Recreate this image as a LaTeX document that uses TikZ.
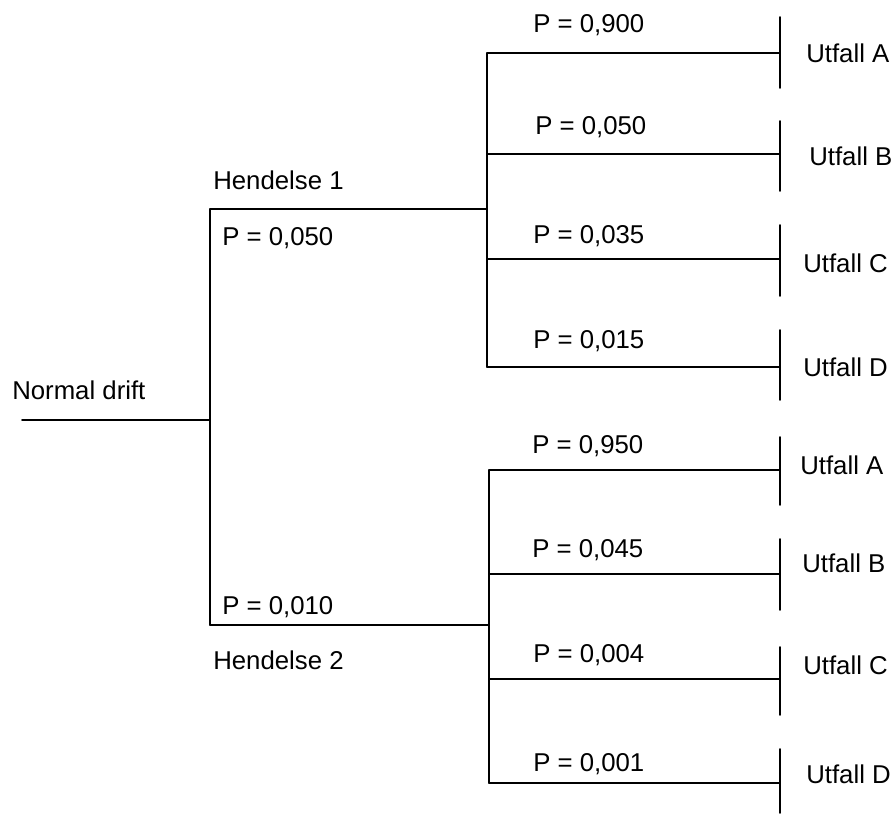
\documentclass[tikz,border=0pt]{standalone}
\usepackage{fontspec}
\setmainfont{Liberation Sans}

\begin{document}
\begin{tikzpicture}[line cap=round,line join=round,x=0.02646cm,y=-0.02646cm,
  lbl/.style={anchor=west,inner sep=0pt,text depth=0pt,font=\fontsize{19.4}{23}\selectfont},
  branch/.style={line width=1.4pt}]
\useasboundingbox (0,0) rectangle (894,817);

\coordinate (start) at (22,420);
\coordinate (n0) at (210,420);
\coordinate (h1) at (210,209);
\coordinate (h1e) at (487,209);
\coordinate (h2) at (210,625);
\coordinate (h2e) at (489,625);

\coordinate (u1) at (487,53);
\coordinate (u2) at (487,154);
\coordinate (u3) at (487,259);
\coordinate (u4) at (487,367);
\coordinate (l1) at (489,470);
\coordinate (l2) at (489,574);
\coordinate (l3) at (489,679);
\coordinate (l4) at (489,783);

\coordinate (ua) at (780,53);
\coordinate (ub) at (780,154);
\coordinate (uc) at (780,259);
\coordinate (ud) at (780,367);
\coordinate (la) at (780,470);
\coordinate (lb) at (780,574);
\coordinate (lc) at (780,679);
\coordinate (ld) at (780,783);

\node[lbl] (drift) at (12,390) {Normal drift};
\node[lbl] (hend1) at (213,180) {Hendelse 1};
\node[lbl] (p1) at (222,236) {P = 0,050};
\node[lbl] (p2) at (222,605) {P = 0,010};
\node[lbl] (hend2) at (213,660) {Hendelse 2};

\node[lbl] (pua) at (533,24) {P = 0,900};
\node[lbl] (pub) at (535,125) {P = 0,050};
\node[lbl] (puc) at (533,234) {P = 0,035};
\node[lbl] (pud) at (533,339) {P = 0,015};
\node[lbl] (pla) at (532,444) {P = 0,950};
\node[lbl] (plb) at (532,548) {P = 0,045};
\node[lbl] (plc) at (533,653) {P = 0,004};
\node[lbl] (pld) at (533,762) {P = 0,001};

\node[lbl] (ta) at (806,53) {Utfall A};
\node[lbl] (tb) at (809,156) {Utfall B};
\node[lbl] (tc) at (803,263) {Utfall C};
\node[lbl] (td) at (803,367) {Utfall D};
\node[lbl] (sa) at (800,465) {Utfall A};
\node[lbl] (sb) at (802,563) {Utfall B};
\node[lbl] (sc) at (803,665) {Utfall C};
\node[lbl] (sd) at (806,774) {Utfall D};

\draw [branch] (start) -- (n0);
\draw [branch] (h1) -- (h2);
\draw [branch] (h1) -- (h1e);
\draw [branch] (h2) -- (h2e);
\draw [branch] (u1) -- (u4);
\draw [branch] (l1) -- (l4);

\draw [branch] (u1) -- (ua);
\draw [branch] (u2) -- (ub);
\draw [branch] (u3) -- (uc);
\draw [branch] (u4) -- (ud);
\draw [branch] (l1) -- (la);
\draw [branch] (l2) -- (lb);
\draw [branch] (l3) -- (lc);
\draw [branch] (l4) -- (ld);

\draw [branch] (ua) ++(0,-36) -- ++(0,71);
\draw [branch] (ub) ++(0,-33) -- ++(0,70);
\draw [branch] (uc) ++(0,-34) -- ++(0,71);
\draw [branch] (ud) ++(0,-37) -- ++(0,70);
\draw [branch] (la) ++(0,-33) -- ++(0,68);
\draw [branch] (lb) ++(0,-35) -- ++(0,71);
\draw [branch] (lc) ++(0,-32) -- ++(0,68);
\draw [branch] (ld) ++(0,-34) -- ++(0,64);
\end{tikzpicture}
\end{document}
